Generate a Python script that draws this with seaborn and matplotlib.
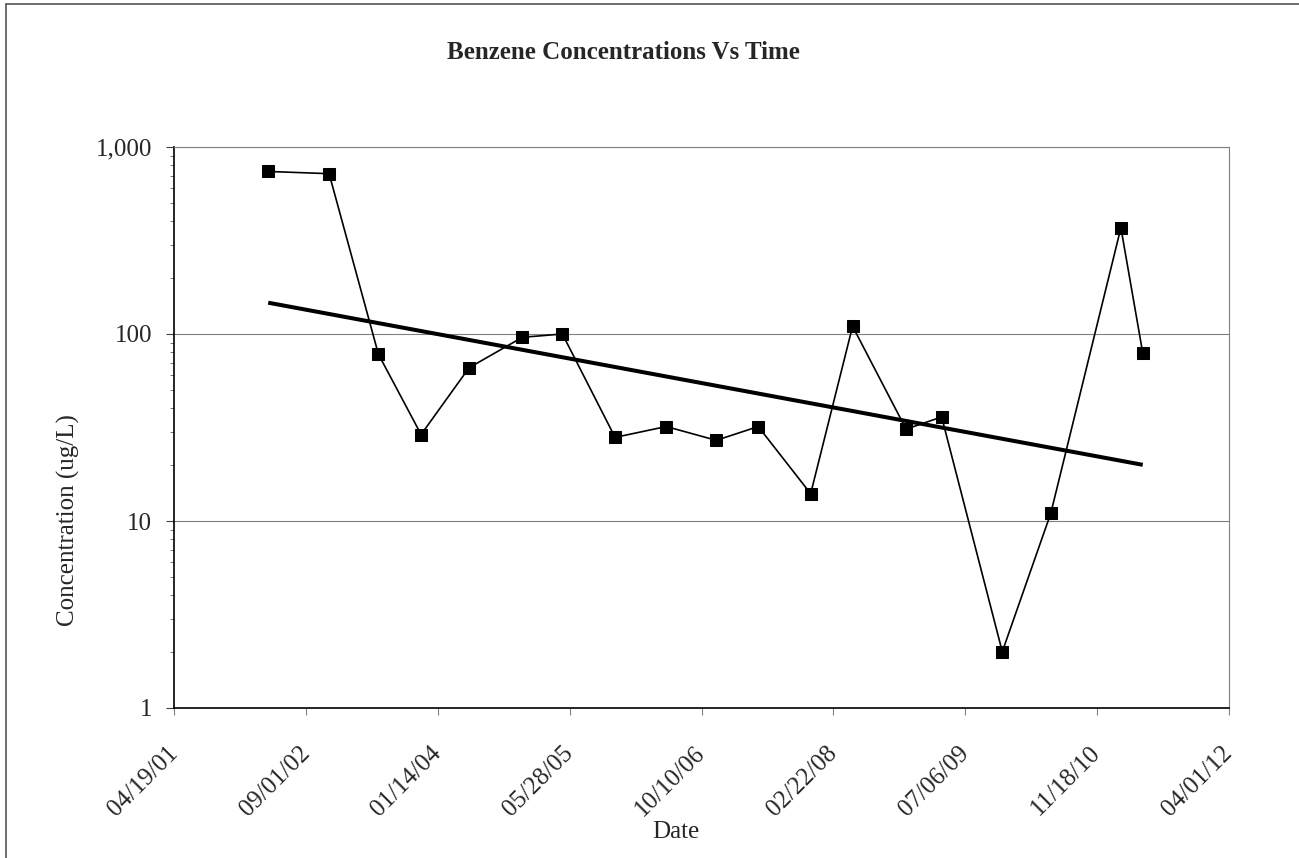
import numpy as np
import pandas as pd
import matplotlib
matplotlib.use("Agg")
import matplotlib.pyplot as plt
import matplotlib.dates as mdates
from matplotlib.ticker import FuncFormatter, FixedLocator, LogLocator, NullFormatter
from matplotlib.lines import Line2D
import seaborn as sns

# Sampling dates and measured benzene concentrations (ug/L)
sample_dates = ["2002-04-10", "2002-11-27", "2003-06-02", "2003-11-11", "2004-05-11",
                "2004-11-29", "2005-04-30", "2005-11-16", "2006-05-29", "2006-12-05",
                "2007-05-13", "2007-11-28", "2008-05-05", "2008-11-24", "2009-04-08",
                "2009-11-24", "2010-05-27", "2011-02-17", "2011-05-11"]
benzene_ugl = [740, 720, 78, 29, 66, 96, 100, 28, 32, 27, 32, 14, 110, 31, 36, 2, 11, 370, 79]

# Axis ticks
x_tick_dates = ["2001-04-19", "2002-09-01", "2004-01-14", "2005-05-28", "2006-10-10",
                "2008-02-22", "2009-07-06", "2010-11-18", "2012-04-01"]
y_ticks = [1, 10, 100, 1000]

title = "Benzene Concentrations Vs Time"
x_label = "Date"
y_label = "Concentration (ug/L)"

df = pd.DataFrame({"date": pd.to_datetime(sample_dates), "conc": benzene_ugl})

sns.set_style("white")
plt.rcParams["font.family"] = ["Liberation Serif", "DejaVu Serif"]

W, H = 1299, 858
fig = plt.figure(figsize=(W / 100, H / 100), dpi=100)
fig.patch.set_facecolor("white")

left, right, top, bottom = 174.4, 1228.7, 147.0, 708.0
ax = fig.add_axes([left / W, 1 - bottom / H, (right - left) / W, (bottom - top) / H])

# Measured series
sns.lineplot(data=df, x="date", y="conc", ax=ax, color="black", linewidth=1.2,
             marker="s", markersize=8.5, markeredgecolor="black",
             markerfacecolor="black", sort=False)

# Exponential trend (least squares on log concentration)
xnum = mdates.date2num(df["date"])
coef = np.polyfit(xnum, np.log(df["conc"].to_numpy(float)), 1)
xt = np.linspace(xnum.min(), xnum.max(), 50)
ax.plot(xt, np.exp(np.polyval(coef, xt)), color="black", linewidth=2.9,
        solid_capstyle="butt")

ax.set_yscale("log")
ax.set_ylim(1, 1000)
ax.yaxis.set_major_locator(FixedLocator(y_ticks))
ax.yaxis.set_major_formatter(FuncFormatter(lambda v, p: f"{v:,.0f}"))
ax.yaxis.set_minor_locator(LogLocator(base=10, subs=np.arange(2, 10)))
ax.yaxis.set_minor_formatter(NullFormatter())

xt_num = mdates.date2num(pd.to_datetime(x_tick_dates))
ax.set_xlim(xt_num[0], xt_num[-1])
ax.xaxis.set_major_locator(FixedLocator(xt_num))
ax.xaxis.set_major_formatter(mdates.DateFormatter("%m/%d/%y"))
ax.xaxis.set_minor_locator(FixedLocator([]))

ax.set_xlabel("")
ax.set_ylabel("")

ax.grid(False)
ax.yaxis.grid(True, which="major", color="#808080", linewidth=0.8)

for s in ("top", "right"):
    ax.spines[s].set_color("#808080")
    ax.spines[s].set_linewidth(0.8)
for s in ("left", "bottom"):
    ax.spines[s].set_color("black")
    ax.spines[s].set_linewidth(1.2)

ax.tick_params(axis="y", which="major", direction="out", length=5.5, width=0.8,
               color="#404040", pad=10.5, labelsize=18, left=True)
ax.tick_params(axis="y", which="minor", direction="out", length=3.2, width=0.6,
               color="#606060", left=True)
ax.tick_params(axis="x", which="major", direction="out", length=5, width=0.8,
               color="#808080", pad=25, labelsize=18, bottom=True)

for lab in ax.get_xticklabels():
    lab.set_rotation(45)
    lab.set_ha("right")
    lab.set_va("center")
    lab.set_rotation_mode("anchor")

fig.text(623 / W, 1 - 59 / H, title, ha="center", va="baseline",
         fontsize=18, fontweight="bold")
fig.text(68 / W, 1 - 520 / H, y_label, rotation=90, ha="center", va="center",
         fontsize=18)
fig.text(676 / W, 1 - 832 / H, x_label, ha="center", va="center", fontsize=18)

# Chart-area border
fig.add_artist(Line2D([6 / W, 1.0], [1 - 4 / H, 1 - 4 / H], transform=fig.transFigure,
                      color="#555555", linewidth=1.2))
fig.add_artist(Line2D([6 / W, 6 / W], [1 - 4 / H, 0.0], transform=fig.transFigure,
                      color="#555555", linewidth=1.2))

fig.savefig("out.png", dpi=100, facecolor="white")
